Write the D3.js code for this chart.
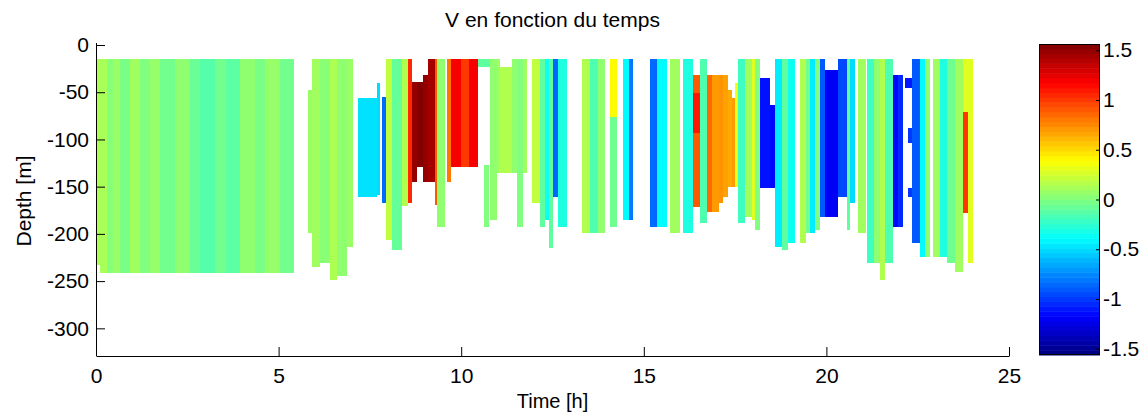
<!DOCTYPE html>
<html>
<head>
<meta charset="utf-8">
<script src="https://d3js.org/d3.v7.min.js"></script>
<style>
  body { margin:0; background:#fff; }
  text { font-family: Arial, "Liberation Sans", sans-serif; fill:#000; }
</style>
</head>
<body>
<div id="chart"></div>
<script>

// cells : [start (h), end (h), top (m), bottom (m), V]
var cellsA = [
  [0.00,0.11,-15,-233,0.14],[0.11,0.30,-15,-241,0.12],[0.30,0.47,-15,-241,0.02],
  [0.47,0.66,-15,-241,0.08],[0.66,0.93,-15,-241,-0.02],[0.93,1.20,-15,-241,0.10],
  [1.20,1.48,-15,-241,0.00],[1.48,1.75,-15,-241,0.07],[1.75,2.15,-15,-241,-0.04],
  [2.15,2.57,-15,-241,0.05],[2.57,2.85,-15,-241,-0.07],[2.85,3.25,-15,-241,-0.13],
  [3.25,3.55,-15,-241,-0.04],[3.55,3.94,-15,-241,-0.11],[3.94,4.35,-15,-241,0.05],
  [4.35,4.62,-15,-241,-0.02],[4.62,5.04,-15,-241,0.07],[5.04,5.42,-15,-241,-0.04],
  [5.80,5.91,-48,-199,0.08],[5.91,6.13,-15,-235,0.10],[6.13,6.41,-15,-231,0.03],
  [6.41,6.60,-15,-249,0.14],[6.60,6.87,-15,-245,0.05],[6.87,7.04,-15,-214,0.08],
  [7.17,7.69,-56,-161,-0.48],[7.69,7.78,-40,-159,-0.50],[7.83,7.94,-55,-167,-0.85],
  [7.94,8.10,-15,-207,0.20]
];

var cellsB = [
  [8.10,8.38,-15,-217,-0.08],[8.38,8.54,-15,-170,0.15],[8.54,8.65,-15,-167,1.05],
  [8.65,8.79,-39,-145,1.50],[8.79,8.95,-39,-129,1.55],[8.95,9.09,-32,-145,1.50],
  [9.09,9.28,-15,-145,1.45],[9.28,9.34,-15,-169,0.90],[9.34,9.55,-15,-193,0.05],
  [9.61,9.72,-15,-145,0.80],[9.72,10.00,-15,-129,1.20],[10.00,10.20,-15,-129,1.00],
  [10.20,10.46,-15,-129,1.20],[10.46,10.79,-15,-23,-0.10],[10.62,10.76,-127,-193,0.00],
  [10.79,10.98,-15,-185,0.05],[10.98,11.06,-15,-136,0.10],[11.06,11.39,-23,-136,0.15],
  [11.39,11.53,-15,-136,0.05],[11.53,11.69,-15,-193,0.00],[11.69,11.80,-15,-136,0.10],
  [11.94,12.16,-15,-167,0.20],[12.16,12.29,-15,-193,-0.10],[12.29,12.40,-15,-185,-0.35],
  [12.40,12.51,-15,-215,-0.10],[12.51,12.65,-15,-161,-0.85],[12.65,12.90,-15,-193,-0.30],
  [13.31,13.53,-15,-199,0.15],[13.53,13.75,-15,-199,-0.15],[13.75,13.94,-15,-199,0.05],
  [14.07,14.27,-15,-76,0.40],[14.07,14.27,-76,-193,-0.05],[14.43,14.60,-15,-185,-0.40],
  [14.60,14.70,-15,-185,-0.80],[15.17,15.35,-15,-193,-0.85],[15.35,15.64,-15,-193,-0.40],
  [15.72,15.99,-15,-199,0.10]
];

var cellsC = [
  [16.07,16.35,-15,-199,-0.30],[16.35,16.54,-32,-172,0.90],[16.35,16.54,-51,-93,1.10],
  [16.54,16.73,-15,-188,-0.15],[16.73,16.87,-32,-177,0.85],[16.87,17.05,-32,-177,0.70],
  [17.05,17.17,-32,-167,0.72],[17.17,17.30,-32,-161,0.68],[17.30,17.42,-48,-150,0.65],
  [17.42,17.50,-56,-150,0.70],[17.50,17.58,-40,-150,0.35],[17.58,17.77,-15,-188,-0.20],
  [17.77,17.96,-15,-182,0.10],[17.96,18.05,-15,-185,0.30],[18.05,18.18,-15,-196,0.00],
  [18.18,18.46,-35,-151,-1.12],[18.46,18.60,-64,-151,-1.15],[18.60,18.78,-15,-214,-0.45],
  [18.78,18.95,-15,-217,-0.10],[18.95,19.14,-15,-210,-0.35],[19.28,19.45,-15,-210,0.15],
  [19.45,19.55,-15,-199,-0.05],[19.55,19.68,-15,-199,-0.45],[19.68,19.82,-15,-196,0.00],
  [19.82,19.96,-15,-182,-0.90],[19.96,20.32,-26,-182,-1.20],[20.32,20.56,-15,-161,-0.95],
  [20.56,20.65,-15,-196,-0.10],[20.65,20.78,-15,-167,-0.50],[20.87,21.08,-15,-199,0.10],
  [21.11,21.30,-15,-231,-0.20],[21.30,21.47,-15,-231,0.05],[21.47,21.60,-15,-249,0.15],
  [21.60,21.82,-15,-231,-0.15],[21.82,21.95,-32,-193,-1.15],[21.95,22.10,-32,-193,-1.05],
  [22.15,22.34,-35,-46,-1.10],[22.23,22.34,-88,-104,-1.00],[22.23,22.34,-151,-161,-1.00],
  [22.34,22.55,-15,-210,-0.90],[22.55,22.70,-15,-225,-0.40],[22.70,22.84,-15,-225,0.05],
  [22.93,23.10,-15,-225,0.10],[23.10,23.30,-15,-225,-0.30],[23.30,23.52,-15,-231,-0.05],
  [23.52,23.74,-15,-240,0.10],[23.74,23.88,-15,-71,0.30],[23.74,23.88,-71,-178,1.00],
  [23.88,24.01,-15,-231,0.30]
];

var timeTicks  = [0,5,10,15,20,25];
var depthTicks = [0,-50,-100,-150,-200,-250,-300];
var cbarTicks  = [-1.5,-1,-0.5,0,0.5,1,1.5];
var vLimit     = 1.5625;

var title  = "V en fonction du temps";
var xLabel = "Time [h]";
var yLabel = "Depth [m]";


//......................... jet colormap .........................................
function jet(v){
  var t = (v + vLimit) / (2*vLimit);
  t = Math.max(0, Math.min(1, t));
  function c(a){ return Math.round(255*Math.max(0, Math.min(1, a))); }
  var r = c(Math.min(4*t-1.5, -4*t+4.5));
  var g = c(Math.min(4*t-0.5, -4*t+3.5));
  var b = c(Math.min(4*t+0.5, -4*t+2.5));
  return "rgb("+r+","+g+","+b+")";
}
//--------------------------------------------------------------------------------

function label(d){ return String(d); }   // plain hyphen, like MATLAB

var width  = 1146;
var height = 414;

var plot = {left:96, right:1009, top:45, bottom:356};

var x = d3.scaleLinear()
  .domain([0,25])
  .range([plot.left, plot.right]);

var y = d3.scaleLinear()
  .domain([0,-329.3])
  .range([plot.top, plot.bottom]);

var svg = d3.select("#chart")
  .append("svg")
    .attr("width", width)
    .attr("height", height);

var cells = cellsA.concat(cellsB, cellsC);

svg.append("g")
  .attr("class","cells")
  .selectAll("rect")
  .data(cells)
  .enter()
  .append("rect")
    .attr("x", function(d){ return x(d[0]); })
    .attr("y", function(d){ return y(d[2]); })
    .attr("width", function(d){ return x(d[1]) - x(d[0]); })
    .attr("height", function(d){ return y(d[3]) - y(d[2]); })
    .attr("fill", function(d){ return jet(d[4]); })
    .attr("shape-rendering","crispEdges");


// axes (MATLAB style: ticks inward, no box)
var xAxis = d3.axisBottom(x)
  .tickValues(timeTicks)
  .tickSizeInner(-9)
  .tickSizeOuter(0)
  .tickPadding(12)
  .tickFormat(label);

var yAxis = d3.axisLeft(y)
  .tickValues(depthTicks)
  .tickSizeInner(-9)
  .tickSizeOuter(0)
  .tickPadding(7)
  .tickFormat(label);

var gx = svg.append("g")
  .attr("transform","translate(0,"+plot.bottom+")")
  .call(xAxis);

var gy = svg.append("g")
  .attr("transform","translate("+plot.left+",0)")
  .call(yAxis);

[gx, gy].forEach(function(g){
  g.select(".domain").attr("stroke","#000").attr("stroke-width",1);
  g.selectAll(".tick line").attr("stroke","#000");
  g.selectAll(".tick text")
    .style("font-size","21px")
    .style("font-family","Arial, 'Liberation Sans', sans-serif");
});
gy.select(".domain").attr("d","M0.5,"+(plot.top-2)+"V"+plot.bottom);

svg.append("text")
  .attr("x", (plot.left+plot.right)/2)
  .attr("y", 27)
  .attr("text-anchor","middle")
  .style("font-size","21px")
  .text(title);

svg.append("text")
  .attr("x", (plot.left+plot.right)/2)
  .attr("y", 408)
  .attr("text-anchor","middle")
  .style("font-size","20px")
  .text(xLabel);

svg.append("text")
  .attr("transform","translate(31,201) rotate(-90)")
  .attr("text-anchor","middle")
  .style("font-size","21px")
  .text(yLabel);


//......................... colorbar ............................................
var cbar = {left:1039, width:61, top:44, bottom:355};

var cy = d3.scaleLinear()
  .domain([-vLimit, vLimit])
  .range([cbar.bottom, cbar.top]);

var levels = d3.range(64).map(function(i){ return -vLimit + (i+0.5)*2*vLimit/64; });
var step   = 2*vLimit/64;

var gc = svg.append("g").attr("class","colorbar");

gc.selectAll("rect")
  .data(levels)
  .enter()
  .append("rect")
    .attr("x", cbar.left)
    .attr("width", cbar.width)
    .attr("y", function(d){ return cy(d+step/2); })
    .attr("height", function(d){ return cy(d-step/2) - cy(d+step/2) + 0.5; })
    .attr("fill", jet);

gc.append("rect")
  .attr("x", cbar.left+0.5)
  .attr("y", cbar.top+0.5)
  .attr("width", cbar.width-1)
  .attr("height", cbar.bottom-cbar.top-1)
  .attr("fill","none")
  .attr("stroke","#000");

var cAxis = d3.axisRight(cy)
  .tickValues(cbarTicks)
  .tickSizeInner(-4)
  .tickSizeOuter(0)
  .tickPadding(3)
  .tickFormat(label);

var gca = gc.append("g")
  .attr("transform","translate("+(cbar.left+cbar.width)+",0)")
  .call(cAxis);
gca.select(".domain").remove();
gca.selectAll(".tick line").attr("stroke","#000");
gca.selectAll(".tick text")
  .style("font-size","21px")
  .style("font-family","Arial, 'Liberation Sans', sans-serif");

</script>
</body>
</html>
